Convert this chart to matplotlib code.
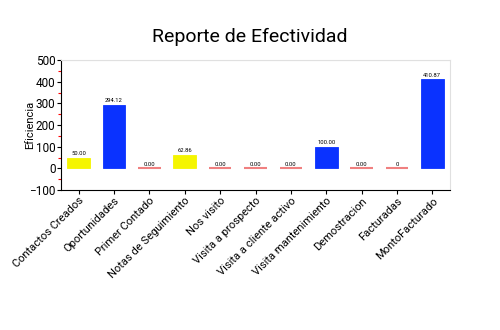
import matplotlib.pyplot as plt
import numpy as np

categorias = ['Contactos Creados', 'Oportunidades', 'Primer Contado', 'Notas de Seguimiento',
              'Nos visito', 'Visita a prospecto', 'Visita a cliente activo',
              'Visita mantenimiento', 'Demostracion', 'Facturadas', 'MontoFacturado']
valores = [50.00, 294.12, 0.00, 62.86, 0.00, 0.00, 0.00, 100.00, 0.00, 0, 410.87]
etiquetas = ['50.00', '294.12', '0.00', '62.86', '0.00', '0.00', '0.00',
             '100.00', '0.00', '0', '410.87']
colores = ['#f5f500', '#0a32ff', '#f08080', '#f5f500', '#f08080', '#f08080',
           '#f08080', '#0a32ff', '#f08080', '#f08080', '#0a32ff']

plt.rcParams['font.family'] = ['Roboto', 'DejaVu Sans']

fig = plt.figure(figsize=(5, 3.3), dpi=100)
ax = fig.add_axes([0.122, 0.424, 0.778, 0.394])

x = np.arange(len(categorias))
ancho = 0.64
for xi, v, c, t in zip(x, valores, colores, etiquetas):
    if v == 0:
        ax.plot([xi - ancho / 2, xi + ancho / 2], [0, 0], color=c, lw=1.5, solid_capstyle='butt')
    else:
        ax.bar(xi, v, width=ancho, color=c, edgecolor=c, linewidth=0.6)
    ax.text(xi, v + 8, t, ha='center', va='bottom', fontsize=4.2)

ax.set_xlim(-0.5, len(categorias) - 0.5)
ax.set_ylim(-100, 500)
ax.set_yticks(np.arange(-100, 501, 100))
ax.set_yticks(np.arange(-50, 500, 100), minor=True)
ax.tick_params(axis='y', which='minor', length=2.5, color='red', width=0.8)
ax.tick_params(axis='both', which='major', length=3, width=0.8, labelsize=8.5, pad=1)
ax.set_xticks(x)
ax.set_xticklabels(categorias, rotation=45, ha='right', rotation_mode='anchor', fontsize=8)
ax.axhline(500, color='#e0e0e0', lw=0.8)
ax.spines['top'].set_color('#e0e0e0')
ax.spines['right'].set_color('#e0e0e0')
ax.set_ylabel('Eficiencia', fontsize=8)
ax.yaxis.set_label_coords(-0.067, 0.5)

fig.suptitle('Reporte de Efectividad', fontsize=14, y=0.915)

plt.savefig('out.png', dpi=100)
